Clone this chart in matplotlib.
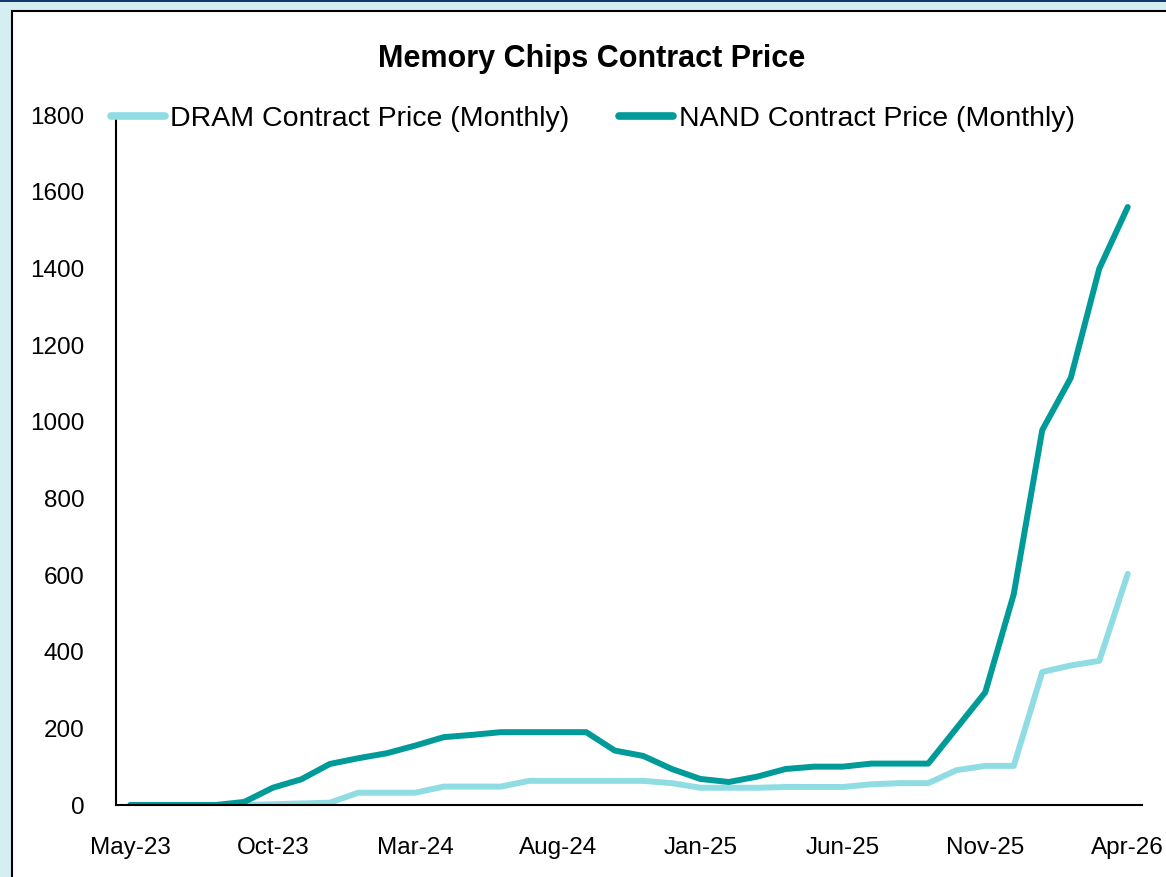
import matplotlib

matplotlib.use("Agg")
import matplotlib.pyplot as plt
from matplotlib.patches import Rectangle

months = [
    "May-23", "Jun-23", "Jul-23", "Aug-23", "Sep-23", "Oct-23", "Nov-23", "Dec-23",
    "Jan-24", "Feb-24", "Mar-24", "Apr-24", "May-24", "Jun-24", "Jul-24", "Aug-24",
    "Sep-24", "Oct-24", "Nov-24", "Dec-24", "Jan-25", "Feb-25", "Mar-25", "Apr-25",
    "May-25", "Jun-25", "Jul-25", "Aug-25", "Sep-25", "Oct-25", "Nov-25", "Dec-25",
    "Jan-26", "Feb-26", "Mar-26", "Apr-26",
]
dram = [
    0, 0, 0, 0, 0, 2, 4, 6, 32, 32, 32, 48, 48, 48, 63, 63,
    63, 63, 63, 57, 45, 45, 45, 47, 47, 47, 54, 57, 57, 91, 102, 102,
    347, 364, 376, 603,
]
nand = [
    0, 0, 0, 0, 8, 45, 67, 107, 122, 135, 155, 177, 183, 190, 190, 190,
    190, 142, 128, 94, 68, 60, 74, 94, 100, 100, 108, 108, 108, 201, 294, 550,
    978, 1114, 1399, 1560,
]
yticks = [0, 200, 400, 600, 800, 1000, 1200, 1400, 1600, 1800]

plt.rcParams["font.family"] = ["Liberation Sans", "DejaVu Sans"]

W, H = 1166, 877
fig = plt.figure(figsize=(W / 100, H / 100), dpi=100, facecolor="#d4eef1")

# white panel with black border, dark strip on top
bg = fig.add_axes([0, 0, 1, 1], zorder=-10)
bg.set_xlim(0, W)
bg.set_ylim(H, 0)
bg.axis("off")
bg.add_patch(Rectangle((12, 11), W + 20, H + 20, facecolor="white",
                       edgecolor="black", linewidth=1.5))
bg.add_patch(Rectangle((0, 0), W, 2, facecolor="#123a6e", edgecolor="none"))

ax = fig.add_axes([116 / W, 1 - 805 / H, (1142 - 116) / W, (805 - 115) / H])
ax.set_facecolor("none")

x = list(range(len(months)))
ax.plot(x, dram, color="#8fdde3", linewidth=4.3, solid_capstyle="round",
        solid_joinstyle="round", label="DRAM Contract Price (Monthly)")
ax.plot(x, nand, color="#009b98", linewidth=4.3, solid_capstyle="round",
        solid_joinstyle="round", label="NAND Contract Price (Monthly)")

ax.set_xlim(-0.5, len(months) - 0.5)
ax.set_ylim(0, 1800)
ax.set_yticks(yticks)
ax.set_xticks(x[::5])
ax.set_xticklabels(months[::5])
ax.tick_params(axis="both", length=0, labelsize=17.5)
ax.tick_params(axis="y", pad=22.5)
ax.tick_params(axis="x", pad=23)
for side in ("top", "right"):
    ax.spines[side].set_visible(False)
for side in ("left", "bottom"):
    ax.spines[side].set_linewidth(1.5)
    ax.spines[side].set_color("black")

fig.text(592 / W, 1 - 59 / H, "Memory Chips Contract Price", ha="center",
         va="center", fontsize=22, fontweight="bold")

leg = fig.legend(loc="center left", bbox_to_anchor=(111 / W, 1 - 119 / H),
                 ncol=2, frameon=False, fontsize=20.5, handlelength=1.9,
                 handletextpad=0.18, columnspacing=1.75, borderaxespad=0,
                 borderpad=0)
leg.set_zorder(5)
for line in leg.get_lines():
    line.set_linewidth(5.5)

fig.savefig("out.png", dpi=100, facecolor=fig.get_facecolor())
